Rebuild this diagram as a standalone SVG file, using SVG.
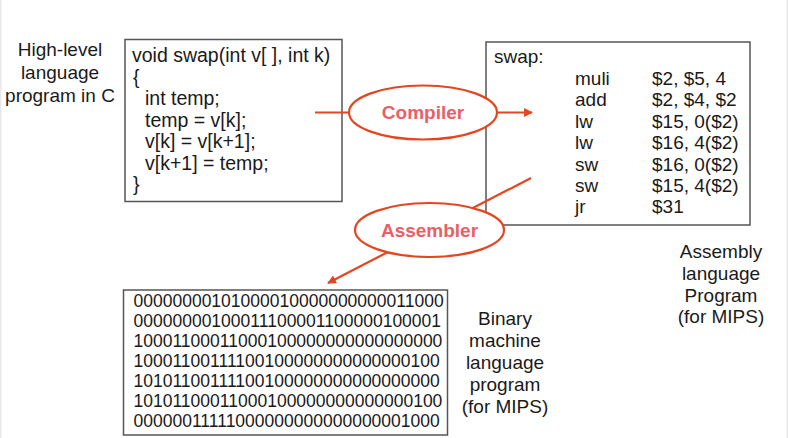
<svg xmlns="http://www.w3.org/2000/svg" width="788" height="438" viewBox="0 0 788 438">
<defs>
<style>
.t{font-family:"Liberation Sans",Arial,sans-serif;font-size:19px;fill:#1a1a1a}
.code{font-size:19.5px}
.c{text-anchor:middle}
.bin{font-family:"Liberation Sans",Arial,sans-serif;font-size:17.5px;fill:#1a1a1a}
.box{fill:#fff;stroke:#555;stroke-width:1.5}
.ell{fill:#fff;stroke:#e4461f;stroke-width:2.2}
.et{font-family:"Liberation Sans",Arial,sans-serif;font-size:19px;font-weight:bold;fill:#ea5f67;text-anchor:middle}
.con{stroke:#e4461f;stroke-width:2.2;fill:none}
</style>
<marker id="ah" viewBox="0 0 10 10" refX="9" refY="5" markerWidth="4" markerHeight="4" orient="auto" markerUnits="strokeWidth">
<path d="M0,0 L10,5 L0,10 z" fill="#e4461f"/>
</marker>
</defs>
<rect width="788" height="438" fill="#fff"/>
<line x1="0.7" y1="0" x2="0.7" y2="438" stroke="#e8e8e8" stroke-width="1.5"/>
<line x1="787.2" y1="0" x2="787.2" y2="438" stroke="#e8e8e8" stroke-width="1.5"/>

<g id="label-c">
<text class="t c" x="60" y="56">High-level</text>
<text class="t c" x="60" y="79">language</text>
<text class="t c" x="60" y="102">program in C</text>
</g>

<g id="c-program">
<rect class="box" x="125" y="39.5" width="217" height="162"/>
<text class="t code" x="132" y="62">void swap(int v[ ], int k)</text>
<text class="t code" x="133" y="83.5">{</text>
<text class="t code" x="145" y="105">int temp;</text>
<text class="t code" x="145" y="126.5">temp = v[k];</text>
<text class="t code" x="145" y="148">v[k] = v[k+1];</text>
<text class="t code" x="145" y="169.5">v[k+1] = temp;</text>
<text class="t code" x="133" y="191">}</text>
</g>

<g id="asm-program">
<rect class="box" x="486" y="42" width="264" height="183"/>
<text class="t" x="494" y="63">swap:</text>
<text class="t" x="575" y="85">muli</text>
<text class="t" x="652" y="85">$2, $5, 4</text>
<text class="t" x="575" y="106.4">add</text>
<text class="t" x="652" y="106.4">$2, $4, $2</text>
<text class="t" x="575" y="127.8">lw</text>
<text class="t" x="652" y="127.8">$15, 0($2)</text>
<text class="t" x="575" y="149.2">lw</text>
<text class="t" x="652" y="149.2">$16, 4($2)</text>
<text class="t" x="575" y="170.6">sw</text>
<text class="t" x="652" y="170.6">$16, 0($2)</text>
<text class="t" x="575" y="192">sw</text>
<text class="t" x="652" y="192">$15, 4($2)</text>
<text class="t" x="575" y="213.4">jr</text>
<text class="t" x="652" y="213.4">$31</text>
</g>

<g id="label-asm">
<text class="t c" x="721" y="258">Assembly</text>
<text class="t c" x="721" y="280">language</text>
<text class="t c" x="721" y="301.5">Program</text>
<text class="t c" x="721" y="323">(for MIPS)</text>
</g>

<g id="binary-program">
<rect class="box" x="123.5" y="290" width="324" height="145"/>
<text class="bin" x="133.5" y="307">00000000101000010000000000011000</text>
<text class="bin" x="133.5" y="327">00000000100011100001100000100001</text>
<text class="bin" x="133.5" y="347">10001100011000100000000000000000</text>
<text class="bin" x="133.5" y="367">10001100111100100000000000000100</text>
<text class="bin" x="133.5" y="387">10101100111100100000000000000000</text>
<text class="bin" x="133.5" y="407">10101100011000100000000000000100</text>
<text class="bin" x="133.5" y="427">00000011111000000000000000001000</text>
</g>

<g id="label-bin">
<text class="t c" x="505" y="325">Binary</text>
<text class="t c" x="505" y="347">machine</text>
<text class="t c" x="505" y="369">language</text>
<text class="t c" x="505" y="391">program</text>
<text class="t c" x="505" y="413">(for MIPS)</text>
</g>

<g id="connectors">
<line class="con" x1="315" y1="112.5" x2="532" y2="112.5" marker-end="url(#ah)"/>
<line class="con" x1="531" y1="178" x2="328" y2="283" marker-end="url(#ah)"/>
</g>

<g id="compiler">
<ellipse class="ell" cx="423" cy="112.5" rx="74" ry="27"/>
<text class="et" x="423" y="119">Compiler</text>
</g>

<g id="assembler">
<ellipse class="ell" cx="429.5" cy="230" rx="74.5" ry="27"/>
<text class="et" x="429.5" y="237">Assembler</text>
</g>
</svg>
